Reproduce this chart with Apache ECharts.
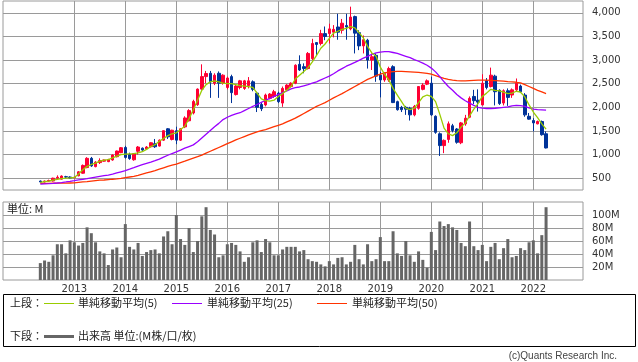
<!DOCTYPE html>
<html><head><meta charset="utf-8">
<script src="https://cdn.jsdelivr.net/npm/echarts@6.0.0/dist/echarts.min.js"></script>
<style>html,body{margin:0;padding:0;background:#fff}#c{width:638px;height:362px}</style>
</head><body><div id="c"></div>
<script>
// Monthly data, first month = 2012-05
const startYear = 2012, startMonth = 5;
const yearLabels = ['2013','2014','2015','2016','2017','2018','2019','2020','2021','2022'];
const openP = [440,420,440,440,500,480,530,525,510,550,
 605,725,920,745,830,860,850,885,955,1040,
 1150,1000,890,1070,1135,1120,1165,1230,1180,1305,
 1545,1320,1505,1305,1585,1715,1880,2055,2385,2650,
 2720,2510,2720,2510,2420,2650,2270,2420,2400,2460,
 2540,2300,2060,2050,2190,2230,2300,2090,2370,2440,
 2510,2910,2860,2820,3030,3370,3350,3560,3560,3590,
 3700,3630,3730,3660,3920,3580,3300,3420,3000,3100,
 2680,2580,2580,2860,2120,2000,2000,1980,1840,1980,
 2380,2490,2510,1810,1440,1190,1320,1610,1540,1250,
 1650,1790,2230,2150,2050,2560,2440,2660,2360,2090,
 2350,2260,2370,2450,2260,1810,1720,1650,1700,1440];
const closeP = [420,440,450,500,520,545,525,505,520,635,
 770,920,760,840,875,885,895,990,1075,1145,
 940,915,1020,1160,1095,1160,1250,1165,1305,1505,
 1375,1515,1305,1545,1775,1930,2125,2385,2650,2715,
 2540,2680,2510,2680,2620,2310,2450,2560,2560,2560,
 2380,2000,1970,2260,2280,2330,2120,2400,2470,2510,
 2890,2790,2820,3140,3350,3330,3560,3500,3660,3650,
 3590,3780,3700,3910,3570,3300,3430,3000,3070,2660,
 2580,2720,2820,2100,1950,1950,1960,1840,2020,2440,
 2470,2560,1840,1470,1190,1300,1650,1510,1260,1670,
 1770,2190,2140,2110,2510,2420,2680,2330,2080,2350,
 2210,2370,2510,2330,1840,1750,1670,1700,1420,1140];
const lowP = [410,410,430,430,490,470,500,490,495,540,
 595,710,740,730,800,850,840,870,940,1030,
 915,890,870,1000,1080,1100,1150,1140,1170,1290,
 1330,1300,1220,1290,1560,1700,1850,2030,2370,2510,
 2200,2470,2200,2480,2380,2090,2250,2380,2370,2400,
 2340,1900,1920,2020,2170,2200,2090,2010,2350,2420,
 2490,2770,2720,2800,3000,3100,3310,3420,3350,3480,
 3430,3560,3430,3630,3140,3210,3140,2820,2790,2540,
 2210,2540,2540,2090,1930,1900,1840,1720,1810,1950,
 2360,2470,1820,1440,970,1030,1250,1470,1230,1220,
 1610,1770,2070,1910,2040,2380,2420,2040,2050,2040,
 2030,2200,2330,2310,1800,1740,1490,1640,1400,1130];
const highP = [450,450,470,510,560,560,550,540,530,650,
 790,945,950,860,920,895,910,1005,1085,1160,
 1185,1040,1030,1180,1150,1180,1260,1330,1320,1510,
 1560,1525,1590,1560,1810,1960,2160,2400,2910,2770,
 2770,2720,2760,2700,2650,2690,2470,2580,2580,2640,
 2570,2330,2110,2290,2300,2370,2330,2440,2490,2530,
 2910,3100,2930,3170,3450,3380,3640,3710,3770,3740,
 3980,3870,3980,4130,3940,3630,3520,3450,3140,3140,
 2750,2740,2860,2890,2140,2030,2030,2010,2050,2450,
 2510,2590,2650,1830,1470,1320,1700,1650,1560,1690,
 1840,2230,2370,2380,2700,2620,2840,2690,2380,2380,
 2400,2400,2610,2480,2300,1880,1770,1720,1720,1490];
const volumeM = [26,30,28,38,55,55,41,61,58,53,
 57,81,72,58,44,41,23,47,50,35,
 86,51,47,57,37,43,46,47,41,67,
 75,55,100,63,54,80,43,60,98,112,
 77,70,35,38,55,57,54,44,28,35,
 58,61,43,63,58,38,38,47,51,51,
 51,44,46,32,29,28,24,21,29,24,
 34,35,24,28,54,32,24,55,29,32,
 66,29,29,75,41,37,60,38,28,44,
 31,19,74,46,90,83,86,81,77,57,
 52,90,52,46,54,29,51,57,32,49,
 63,35,37,49,46,58,61,41,69,112];
const ma5 = [410,425,440,460,475,490,500,505,515,590,
 680,750,790,820,860,880,895,930,965,1000,
 1010,1015,1020,1035,1060,1110,1170,1210,1280,1340,
 1400,1440,1460,1530,1600,1760,1950,2150,2360,2480,
 2540,2560,2540,2510,2500,2500,2480,2460,2450,2440,
 2420,2300,2180,2140,2130,2150,2230,2290,2360,2440,
 2600,2680,2760,2840,2960,3100,3250,3340,3460,3570,
 3610,3650,3670,3710,3680,3580,3470,3290,3150,3080,
 2850,2700,2580,2400,2260,2120,1980,1950,1980,2100,
 2220,2260,2230,2120,1850,1560,1440,1400,1460,1580,
 1670,1820,1960,2080,2230,2300,2380,2360,2350,2320,
 2290,2300,2340,2320,2220,2050,1900,1780,1650,1540];
const ma25 = [373,378,383,390,398,408,420,433,447,462,
 477,492,508,523,538,553,567,585,610,635,
 660,690,722,755,785,813,840,870,905,945,
 985,1022,1058,1095,1135,1170,1205,1270,1350,1430,
 1510,1590,1660,1740,1790,1830,1860,1885,1930,1975,
 2020,2060,2105,2150,2190,2230,2270,2310,2345,2390,
 2415,2430,2455,2480,2510,2540,2580,2620,2660,2710,
 2770,2820,2870,2910,2950,2995,3040,3080,3120,3150,
 3170,3180,3180,3160,3140,3110,3080,3050,3010,2975,
 2935,2890,2830,2750,2650,2540,2440,2360,2270,2200,
 2140,2090,2040,2000,1985,1975,1975,1980,1990,2000,
 2010,2030,2040,2035,2020,1990,1960,1950,1945,1940];
const ma50 = [390,390,392,393,394,395,396,398,400,410,
 420,428,440,450,457,462,470,478,485,495,
 510,525,540,560,585,610,635,660,690,720,
 750,775,800,830,860,895,925,955,990,1030,
 1070,1110,1150,1190,1230,1270,1310,1345,1380,1415,
 1450,1480,1505,1530,1560,1590,1620,1650,1690,1730,
 1770,1820,1870,1920,1970,2020,2060,2100,2150,2200,
 2245,2290,2340,2390,2440,2490,2540,2590,2630,2670,
 2700,2730,2745,2755,2760,2760,2755,2750,2745,2740,
 2730,2720,2700,2670,2640,2610,2590,2575,2565,2560,
 2560,2565,2570,2575,2575,2575,2570,2565,2560,2555,
 2545,2540,2530,2515,2480,2440,2400,2360,2325,2290];
const priceTicks = [500,1000,1500,2000,2500,3000,3500,4000];
const volTicks = [20,40,60,80,100];

// month labels and January positions
const months = openP.map((_, i) => {
  const t = startMonth - 1 + i;
  return (startYear + Math.floor(t / 12)) + '-' + String(t % 12 + 1).padStart(2, '0');
});
const yearIdx = yearLabels.map(y => months.indexOf(y + '-01'));
const idxToYear = v => { const k = yearIdx.indexOf(v); return k >= 0 ? yearLabels[k] : ''; };

const xMin = -8.78, xMax = 127.69;
const GRID = '#9a9a9a';
const FONT = 'DejaVu Sans';
const JP = '"Noto Sans CJK JP", sans-serif';

const chart = echarts.init(document.getElementById('c'), null, {renderer: 'canvas'});
chart.setOption({
  animation: false,
  backgroundColor: '#ffffff',
  grid: [
    {left: 3, top: 1, width: 580, height: 189, show: true, borderColor: GRID, borderWidth: 1, backgroundColor: 'transparent'},
    {left: 3, top: 202, width: 580, height: 78, show: true, borderColor: GRID, borderWidth: 1, backgroundColor: 'transparent'}
  ],
  xAxis: [
    {type: 'value', gridIndex: 0, min: xMin, max: xMax,
     axisLine: {show: false}, axisTick: {show: false, customValues: yearIdx},
     axisLabel: {show: false, customValues: yearIdx},
     splitLine: {show: true, lineStyle: {color: GRID, width: 1}}},
    {type: 'value', gridIndex: 1, min: xMin, max: xMax,
     axisLine: {show: false}, axisTick: {show: false, customValues: yearIdx},
     axisLabel: {show: true, customValues: yearIdx, formatter: idxToYear, color: '#333', fontFamily: FONT, fontSize: 10, margin: 4},
     splitLine: {show: true, lineStyle: {color: GRID, width: 1}}}
  ],
  yAxis: [
    {type: 'value', gridIndex: 0, position: 'right', min: 250, max: 4250,
     axisLine: {show: false},
     axisTick: {show: true, length: 4, customValues: priceTicks, lineStyle: {color: GRID}},
     axisLabel: {customValues: priceTicks, color: '#333', fontFamily: FONT, fontSize: 10, margin: 9,
       formatter: v => v.toLocaleString('en-US')},
     splitLine: {show: true, lineStyle: {color: GRID, width: 1}}},
    {type: 'value', gridIndex: 1, position: 'right', min: 0, max: 120,
     axisLine: {show: false},
     axisTick: {show: true, length: 4, customValues: volTicks, lineStyle: {color: GRID}},
     axisLabel: {customValues: volTicks, color: '#333', fontFamily: FONT, fontSize: 10, margin: 9,
       formatter: v => v + 'M'},
     splitLine: {show: true, lineStyle: {color: GRID, width: 1}}}
  ],
  series: [
    {type: 'candlestick', xAxisIndex: 0, yAxisIndex: 0, barWidth: 3,
     data: months.map((m, i) => [i, openP[i], closeP[i], lowP[i], highP[i]]),
     itemStyle: {color: '#ff0033', color0: '#003399', borderColor: '#ff0033', borderColor0: '#003399', borderWidth: 1}},
    {type: 'line', name: '単純移動平均(50)', xAxisIndex: 0, yAxisIndex: 0, symbol: 'none',
     data: months.map((m, i) => [i, ma50[i]]), lineStyle: {color: '#ff3300', width: 1.3}},
    {type: 'line', name: '単純移動平均(25)', xAxisIndex: 0, yAxisIndex: 0, symbol: 'none',
     data: months.map((m, i) => [i, ma25[i]]), lineStyle: {color: '#9900ff', width: 1.3}},
    {type: 'line', name: '単純移動平均(5)', xAxisIndex: 0, yAxisIndex: 0, symbol: 'none',
     data: months.map((m, i) => [i, ma5[i]]), lineStyle: {color: '#99cc00', width: 1.3}},
    {type: 'bar', xAxisIndex: 1, yAxisIndex: 1, barWidth: 3,
     data: months.map((m, i) => [i, volumeM[i]]), itemStyle: {color: '#666666'}}
  ],
  graphic: [
    {type: 'text', left: 7, top: 203, style: {text: '単位: M', font: '11px ' + JP, fill: '#222'}},
    {type: 'rect', shape: {x: 3.5, y: 294.5, width: 632, height: 52}, style: {fill: 'none', stroke: '#000', lineWidth: 1}},
    {type: 'text', x: 10, y: 303, style: {text: '上段：', font: '11px ' + JP, fill: '#222', textVerticalAlign: 'middle'}},
    {type: 'line', shape: {x1: 44, y1: 303.5, x2: 74, y2: 303.5}, style: {stroke: '#99cc00', lineWidth: 1}},
    {type: 'text', x: 78, y: 303, style: {text: '単純移動平均(5)', font: '11px ' + JP, fill: '#222', textVerticalAlign: 'middle'}},
    {type: 'line', shape: {x1: 172, y1: 303.5, x2: 202, y2: 303.5}, style: {stroke: '#9900ff', lineWidth: 1}},
    {type: 'text', x: 207, y: 303, style: {text: '単純移動平均(25)', font: '11px ' + JP, fill: '#222', textVerticalAlign: 'middle'}},
    {type: 'line', shape: {x1: 317, y1: 303.5, x2: 347, y2: 303.5}, style: {stroke: '#ff3300', lineWidth: 1}},
    {type: 'text', x: 352, y: 303, style: {text: '単純移動平均(50)', font: '11px ' + JP, fill: '#222', textVerticalAlign: 'middle'}},
    {type: 'text', x: 10, y: 336, style: {text: '下段：', font: '11px ' + JP, fill: '#222', textVerticalAlign: 'middle'}},
    {type: 'line', shape: {x1: 44, y1: 336.5, x2: 74, y2: 336.5}, style: {stroke: '#666666', lineWidth: 3}},
    {type: 'text', x: 78, y: 336, style: {text: '出来高 単位:(M株/口/枚)', font: '11px ' + JP, fill: '#222', textVerticalAlign: 'middle'}},
    {type: 'text', x: 617, y: 356, style: {text: '(c)Quants Research Inc.', font: '10px "Liberation Sans", sans-serif', fill: '#444', textAlign: 'right', textVerticalAlign: 'middle'}}
  ]
});
</script>
</body></html>
